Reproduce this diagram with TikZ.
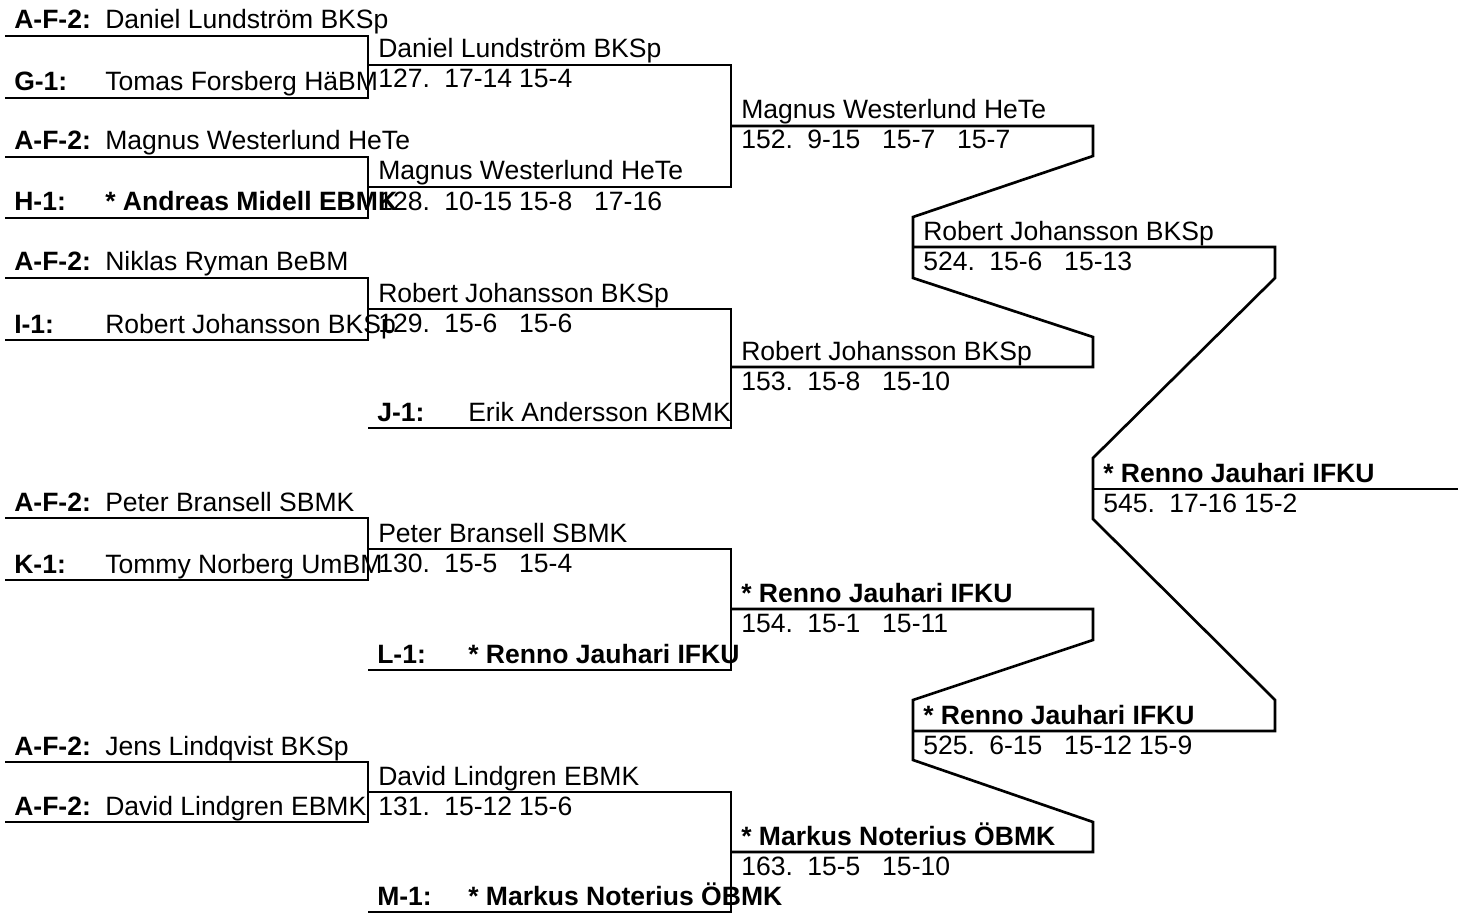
\documentclass[tikz,border=0pt]{standalone}
\usepackage{fontspec}
\setmainfont{Liberation Sans}

\newcommand{\nmatch}[1]{\makebox[49.5pt][l]{#1}}
\newcommand{\gset}[1]{\makebox[56.25pt][l]{#1}}

\tikzset{
  linea/.style={line width=2pt},
  testo/.style={anchor=base west, inner sep=0pt, font=\fontsize{19.9}{24}\selectfont},
  sigla/.style={testo, font=\fontsize{19.9}{24}\selectfont\bfseries, xshift=6.75pt, yshift=5.25pt},
  gioc/.style={testo, xshift=75pt, yshift=5.25pt},
  vinc/.style={testo, xshift=7.5pt, yshift=5.25pt},
  ris/.style={testo, xshift=7.5pt, yshift=-17.25pt}
}

\begin{document}
\begin{tikzpicture}[x=0.75pt,y=-0.75pt]
\useasboundingbox (0,0) rectangle (1464,913);

% Primo turno
\coordinate (p1) at (5,36);
\coordinate (p2) at (5,98);
\coordinate (p3) at (5,157);
\coordinate (p4) at (5,218);
\coordinate (p5) at (5,278);
\coordinate (p6) at (5,340);
\coordinate (p7) at (5,518);
\coordinate (p8) at (5,580);
\coordinate (p9) at (5,762);
\coordinate (p10) at (5,822);

% Secondo turno
\coordinate (m127) at (368,65);  \coordinate (e127) at (731,65);
\coordinate (m128) at (368,187); \coordinate (e128) at (731,187);
\coordinate (m129) at (368,309); \coordinate (e129) at (731,309);
\coordinate (j1) at (368,428);
\coordinate (m130) at (368,549); \coordinate (e130) at (731,549);
\coordinate (l1) at (368,670);
\coordinate (m131) at (368,792); \coordinate (e131) at (731,792);
\coordinate (mm1) at (368,912);

% Terzo turno
\coordinate (m152) at (731,126); \coordinate (e152) at (1093,126);
\coordinate (m153) at (731,367); \coordinate (e153) at (1093,367);
\coordinate (m154) at (731,609); \coordinate (e154) at (1093,609);
\coordinate (m163) at (731,852); \coordinate (e163) at (1093,852);
\coordinate (k1) at (1093,156);
\coordinate (k2) at (913,217);
\coordinate (k3) at (913,278);
\coordinate (k4) at (1093,337);
\coordinate (k5) at (1093,640);
\coordinate (k6) at (913,700);
\coordinate (k7) at (913,760);
\coordinate (k8) at (1093,822);

% Semifinali e finale
\coordinate (m524) at (913,247); \coordinate (e524) at (1275,247);
\coordinate (m525) at (913,731); \coordinate (e525) at (1275,731);
\coordinate (m545) at (1093,489); \coordinate (e545) at (1458,489);
\coordinate (f1) at (1275,278);
\coordinate (f2) at (1093,458);
\coordinate (f3) at (1093,519);
\coordinate (f4) at (1275,700);

\draw[linea] (p1) -| (m127) |- (p2);
\draw[linea] (p3) -| (m128) |- (p4);
\draw[linea] (p5) -| (m129) |- (p6);
\draw[linea] (p7) -| (m130) |- (p8);
\draw[linea] (p9) -| (m131) |- (p10);

\draw[linea] (m127) -- (e127) -- (e128) -- (m128);
\draw[linea] (m129) -- (e129) |- (j1);
\draw[linea] (m130) -- (e130) |- (l1);
\draw[linea] (m131) -- (e131) |- (mm1);

\draw[linea] (m152) -- (e152) -- (k1) -- (k2) -- (k3) -- (k4) -- (e153) -- (m153);
\draw[linea] (m154) -- (e154) -- (k5) -- (k6) -- (k7) -- (k8) -- (e163) -- (m163);
\draw[linea] (m524) -- (e524) -- (f1) -- (f2) -- (f3) -- (f4) -- (e525) -- (m525);
\draw[linea] (m545) -- (e545);

% Giocatori
\node[sigla] (s1) at (p1) {A-F-2:};
\node[gioc] (g1) at (p1) {Daniel Lundström BKSp};
\node[sigla] (s2) at (p2) {G-1:};
\node[gioc] (g2) at (p2) {Tomas Forsberg HäBM};
\node[sigla] (s3) at (p3) {A-F-2:};
\node[gioc] (g3) at (p3) {Magnus Westerlund HeTe};
\node[sigla] (s4) at (p4) {H-1:};
\node[gioc] (g4) at (p4) {\textbf{* Andreas Midell EBMK}};
\node[sigla] (s5) at (p5) {A-F-2:};
\node[gioc] (g5) at (p5) {Niklas Ryman BeBM};
\node[sigla] (s6) at (p6) {I-1:};
\node[gioc] (g6) at (p6) {Robert Johansson BKSp};
\node[sigla] (s7) at (j1) {J-1:};
\node[gioc] (g7) at (j1) {Erik Andersson KBMK};
\node[sigla] (s8) at (p7) {A-F-2:};
\node[gioc] (g8) at (p7) {Peter Bransell SBMK};
\node[sigla] (s9) at (p8) {K-1:};
\node[gioc] (g9) at (p8) {Tommy Norberg UmBM};
\node[sigla] (s10) at (l1) {L-1:};
\node[gioc] (g10) at (l1) {\textbf{* Renno Jauhari IFKU}};
\node[sigla] (s11) at (p9) {A-F-2:};
\node[gioc] (g11) at (p9) {Jens Lindqvist BKSp};
\node[sigla] (s12) at (p10) {A-F-2:};
\node[gioc] (g12) at (p10) {David Lindgren EBMK};
\node[sigla] (s13) at (mm1) {M-1:};
\node[gioc] (g13) at (mm1) {\textbf{* Markus Noterius ÖBMK}};

% Partite
\node[vinc] (v127) at (m127) {Daniel Lundström BKSp};
\node[ris] (r127) at (m127) {\nmatch{127.}\gset{17-14}15-4};
\node[vinc] (v128) at (m128) {Magnus Westerlund HeTe};
\node[ris] (r128) at (m128) {\nmatch{128.}\gset{10-15}\gset{15-8}17-16};
\node[vinc] (v129) at (m129) {Robert Johansson BKSp};
\node[ris] (r129) at (m129) {\nmatch{129.}\gset{15-6}15-6};
\node[vinc] (v130) at (m130) {Peter Bransell SBMK};
\node[ris] (r130) at (m130) {\nmatch{130.}\gset{15-5}15-4};
\node[vinc] (v131) at (m131) {David Lindgren EBMK};
\node[ris] (r131) at (m131) {\nmatch{131.}\gset{15-12}15-6};

\node[vinc] (v152) at (m152) {Magnus Westerlund HeTe};
\node[ris] (r152) at (m152) {\nmatch{152.}\gset{9-15}\gset{15-7}15-7};
\node[vinc] (v153) at (m153) {Robert Johansson BKSp};
\node[ris] (r153) at (m153) {\nmatch{153.}\gset{15-8}15-10};
\node[vinc] (v154) at (m154) {\textbf{* Renno Jauhari IFKU}};
\node[ris] (r154) at (m154) {\nmatch{154.}\gset{15-1}15-11};
\node[vinc] (v163) at (m163) {\textbf{* Markus Noterius ÖBMK}};
\node[ris] (r163) at (m163) {\nmatch{163.}\gset{15-5}15-10};

\node[vinc] (v524) at (m524) {Robert Johansson BKSp};
\node[ris] (r524) at (m524) {\nmatch{524.}\gset{15-6}15-13};
\node[vinc] (v525) at (m525) {\textbf{* Renno Jauhari IFKU}};
\node[ris] (r525) at (m525) {\nmatch{525.}\gset{6-15}\gset{15-12}15-9};
\node[vinc] (v545) at (m545) {\textbf{* Renno Jauhari IFKU}};
\node[ris] (r545) at (m545) {\nmatch{545.}\gset{17-16}15-2};

\end{tikzpicture}
\end{document}
